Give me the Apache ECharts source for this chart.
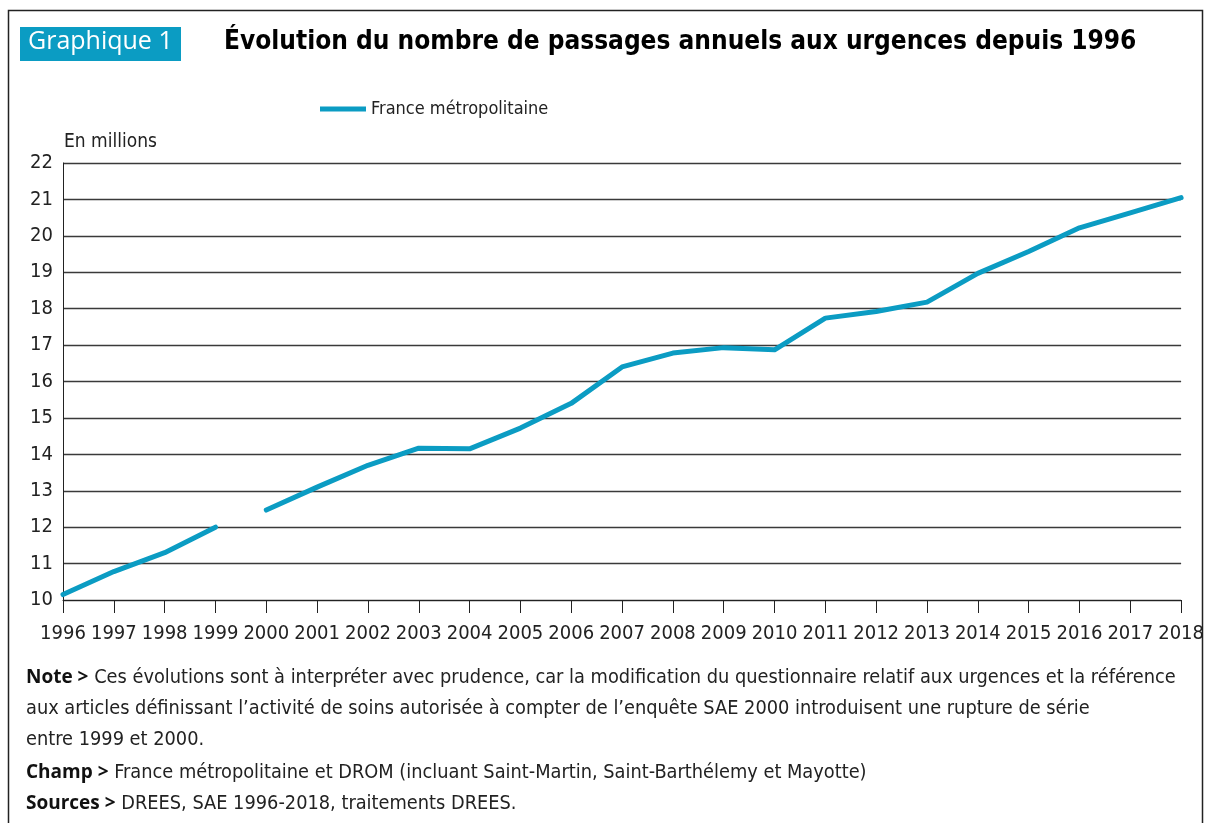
<!DOCTYPE html>
<html>
<head>
<meta charset="utf-8">
<script src="https://cdn.jsdelivr.net/npm/echarts@6/dist/echarts.min.js"></script>
<style>
html,body{margin:0;padding:0;background:#fff;}
#c{width:1207px;height:823px;}
</style>
</head>
<body>
<div id="c"></div>
<script>
const years = ['1996','1997','1998','1999','2000','2001','2002','2003','2004','2005','2006','2007','2008','2009','2010','2011','2012','2013','2014','2015','2016','2017','2018'];
const before2000 = [10.15, 10.78, 11.3, 12.0];
const from2000 = [12.47, 13.1, 13.7, 14.17, 14.15, 14.72, 15.4, 16.4, 16.78, 16.93, 16.87, 17.74, 17.92, 18.18, 18.97, 19.57, 20.22, 20.63, 21.05];
const seriesName = 'France métropolitaine';
const titleTag = 'Graphique 1';
const titleText = 'Évolution du nombre de passages annuels aux urgences depuis 1996';
const unitLabel = 'En millions';
const notes = [
  ['Note >', ' Ces évolutions sont à interpréter avec prudence, car la modification du questionnaire relatif aux urgences et la référence'],
  ['', 'aux articles définissant l’activité de soins autorisée à compter de l’enquête SAE 2000 introduisent une rupture de série'],
  ['', 'entre 1999 et 2000.'],
  ['Champ >', ' France métropolitaine et DROM (incluant Saint-Martin, Saint-Barthélemy et Mayotte)'],
  ['Sources >', ' DREES, SAE 1996-2018, traitements DREES.']
];

const COND = "'Liberation Sans Narrow','DejaVu Sans Condensed','Roboto',sans-serif";
const TEAL = '#0b9cc3';

const seriesA = years.map((y,i)=> i < before2000.length ? before2000[i] : null);
const seriesB = years.map((y,i)=> i >= before2000.length ? from2000[i-before2000.length] : null);

const noteY = [679, 710, 741, 774, 805];
const noteGraphics = notes.map((n,i)=>({
  type:'text', left:26, top:noteY[i]-11,
  style:{
    text: (n[0] ? '{b|'+n[0]+'}' : '') + '{r|'+n[1]+'}',
    rich:{
      b:{fontFamily:"'Open Sans','DejaVu Sans',sans-serif", fontWeight:'bold', fontSize:19, fill:'#111'},
      r:{fontFamily:COND, fontSize:19.8, fill:'#222'}
    }
  }
}));

const chart = echarts.init(document.getElementById('c'));
chart.setOption({
  animation:false,
  backgroundColor:'#fff',
  grid:{left:63, right:19, top:163, bottom:223, containLabel:false},
  legend:{
    data:[seriesName], left:315, top:95,
    itemWidth:46, itemHeight:5, icon:'rect',
    textStyle:{fontFamily:COND, fontSize:18, color:'#222'}
  },
  xAxis:{
    type:'category', data:years, boundaryGap:false,
    axisLine:{lineStyle:{color:'#222', width:1}},
    axisTick:{show:true, length:13, alignWithLabel:true, lineStyle:{color:'#222'}},
    axisLabel:{fontFamily:COND, fontSize:20, color:'#222', margin:24, interval:0}
  },
  yAxis:{
    type:'value', min:10, max:22, interval:1,
    axisLine:{show:true, lineStyle:{color:'#222'}},
    axisTick:{show:false},
    axisLabel:{fontFamily:COND, fontSize:20, color:'#222', margin:10},
    splitLine:{lineStyle:{color:'#3a3a3a', width:1.3}}
  },
  series:[
    {name:seriesName, type:'line', data:seriesA, showSymbol:false, symbol:'none',
     lineStyle:{color:TEAL, width:5, cap:'round', join:'round'}, itemStyle:{color:TEAL}},
    {name:seriesName, type:'line', data:seriesB, showSymbol:false, symbol:'none',
     lineStyle:{color:TEAL, width:5, cap:'round', join:'round'}, itemStyle:{color:TEAL}}
  ],
  graphic:[
    {type:'rect', shape:{x:8.5, y:10.5, width:1194, height:830}, style:{fill:null, stroke:'#222', lineWidth:1.5}, silent:true},
    {type:'rect', shape:{x:20, y:27, width:161, height:34}, style:{fill:TEAL}},
    {type:'text', left:28, top:29, style:{text:titleTag, fontFamily:"'Open Sans','DejaVu Sans',sans-serif", fontWeight:500, fontSize:25, fill:'#fff'}},
    {type:'text', left:224, top:29, style:{text:titleText, fontFamily:"'DejaVu Sans Condensed','Liberation Sans Narrow',sans-serif", fontWeight:'bold', fontSize:26, fill:'#000'}},
    {type:'text', left:64, top:133, style:{text:unitLabel, fontFamily:COND, fontSize:19, fill:'#222'}}
  ].concat(noteGraphics)
});
</script>
</body>
</html>
